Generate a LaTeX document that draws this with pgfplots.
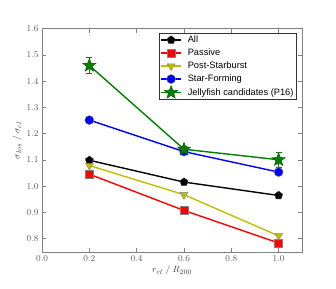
\documentclass[border=0pt]{standalone}
\usepackage{fontspec}
\usepackage{pgfplots}
\pgfplotsset{compat=1.18}
\newfontfamily\legfont{Liberation Sans}
\definecolor{mplgreen}{rgb}{0,0.5,0}
\definecolor{mplyellow}{rgb}{0.75,0.75,0}
\definecolor{axgray}{gray}{0.5}
\pgfdeclareplotmark{fstar}{%
  \pgfpathmoveto{\pgfpointpolar{90}{\pgfplotmarksize}}%
  \pgfpathlineto{\pgfpointpolar{126}{0.42*\pgfplotmarksize}}%
  \pgfpathlineto{\pgfpointpolar{162}{\pgfplotmarksize}}%
  \pgfpathlineto{\pgfpointpolar{198}{0.42*\pgfplotmarksize}}%
  \pgfpathlineto{\pgfpointpolar{234}{\pgfplotmarksize}}%
  \pgfpathlineto{\pgfpointpolar{270}{0.42*\pgfplotmarksize}}%
  \pgfpathlineto{\pgfpointpolar{306}{\pgfplotmarksize}}%
  \pgfpathlineto{\pgfpointpolar{342}{0.42*\pgfplotmarksize}}%
  \pgfpathlineto{\pgfpointpolar{18}{\pgfplotmarksize}}%
  \pgfpathlineto{\pgfpointpolar{54}{0.42*\pgfplotmarksize}}%
  \pgfpathclose
  \pgfusepathqfillstroke
}
\begin{document}
\begin{tikzpicture}
\begin{axis}[name=ax, scale only axis, width=260bp, height=223bp,
  xmin=0, xmax=1.1, ymin=0.75, ymax=1.6,
  xtick={0,0.2,0.4,0.6,0.8,1.0},
  ytick={0.8,0.9,1.0,1.1,1.2,1.3,1.4,1.5,1.6},
  axis line style={axgray, line width=0.8pt},
  tick style={axgray, line width=0.6pt},
  major tick length=4bp,
  tick align=inside, xtick pos=both, ytick pos=both,
  tick label style={font=\fontsize{9}{10}\selectfont, text=black!65},
  xticklabel style={/pgf/number format/.cd, fixed, fixed zerofill, precision=1},
  yticklabel style={/pgf/number format/.cd, fixed, fixed zerofill, precision=1},
  xlabel={$r_{cl}\;/\;R_{200}$}, ylabel={$\sigma_{los}\;/\;\sigma_{cl}$},
  label style={font=\fontsize{9.5}{11}\selectfont, text=black!75},
  xlabel style={yshift=2bp}, ylabel style={yshift=-2bp},
  legend style={at={(1,1)}, anchor=north east, xshift=-5.5bp, yshift=-4.5bp,
    font=\legfont\fontsize{9.3}{11}\selectfont, draw=black!80, line width=0.6pt,
    inner xsep=1bp, inner ysep=0pt, row sep=0pt, column sep=4bp,
    nodes={inner xsep=2bp, inner ysep=2bp, text height=7bp, text depth=2bp},
    cells={anchor=west}},
  legend cell align=left,
  legend image code/.code={\draw[mark repeat=2,mark phase=2] plot coordinates {(0bp,0bp)(10bp,0bp)(20bp,0bp)};},
  every axis plot/.append style={line width=1.4bp},
]
\addplot[black, mark=pentagon*, mark size=4.3bp, mark options={fill=black, draw=black!70, line width=0.4pt}]
  coordinates {(0.2,1.099) (0.6,1.016) (1.0,0.965)};
\addlegendentry{All}
\addplot[red, mark=square*, mark size=4bp, mark options={fill=red, draw=black!50, line width=0.4pt}]
  coordinates {(0.2,1.046) (0.6,0.908) (1.0,0.784)};
\addlegendentry{Passive}
\addplot[mplyellow, mark=triangle*, mark size=4.5bp, mark options={rotate=180, fill=mplyellow, draw=black!50, line width=0.4pt}]
  coordinates {(0.2,1.079) (0.6,0.968) (1.0,0.811)};
\addlegendentry{Post-Starburst}
\addplot[blue, mark=*, mark size=4.5bp, mark options={fill=blue, draw=black!50, line width=0.4pt}]
  coordinates {(0.2,1.252) (0.6,1.132) (1.0,1.054)};
\addlegendentry{Star-Forming}
\addplot[mplgreen, mark=fstar, mark size=7bp, mark options={fill=mplgreen, draw=mplgreen!70!black, line width=0.4pt},
  error bars/.cd, y dir=both, y explicit, error bar style={mplgreen, line width=1bp},
  error mark options={mplgreen, line width=1bp, mark size=3bp, rotate=90}]
  coordinates {(0.2,1.460) +- (0,0.029) (0.6,1.141) +- (0,0.01) (1.0,1.101) +- (0,0.028)};
\addlegendentry{Jellyfish candidates (P16)}
\end{axis}
\pgfresetboundingbox
\path (ax.south west) ++(-42bp,-36.3bp) coordinate (bl);
\path (ax.north east) ++(33.7bp,28.7bp) coordinate (tr);
\path[use as bounding box] (bl) rectangle (tr);
\end{tikzpicture}
\end{document}
